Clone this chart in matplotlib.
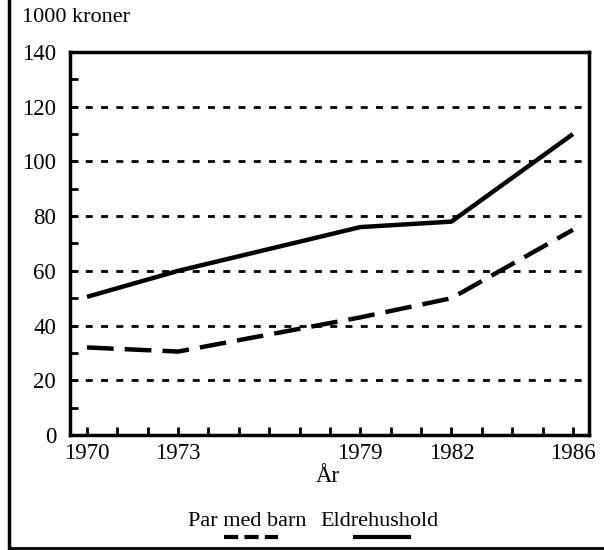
import matplotlib
matplotlib.use("Agg")
import matplotlib.pyplot as plt
from matplotlib.lines import Line2D

years = [1970, 1973, 1979, 1982, 1986]
par_med_barn = [32, 30.5, 43, 50, 75]
eldrehushold = [50.5, 60, 76, 78, 110]
xtick_labels = ["1970", "1973", "1979", "1982", "1986"]
yticks = [0, 20, 40, 60, 80, 100, 120, 140]

plt.rcParams['font.family'] = ['Liberation Serif', 'DejaVu Serif']

fig = plt.figure(figsize=(6.04, 5.5), dpi=100)
W, H = 604, 550
ax = fig.add_axes([70 / W, 1 - 435 / H, (589 - 70) / W, (435 - 52) / H])

ax.set_xlim(1969.44, 1986.53)
ax.set_ylim(0, 140)

for y in [20, 40, 60, 80, 100, 120]:
    ax.axhline(y, color='black', lw=2.0, linestyle=(0, (2.5, 3.0)), zorder=1)

ax.plot(years, eldrehushold, color='black', lw=3.2, solid_capstyle='butt', zorder=3)
ax.plot(years, par_med_barn, color='black', lw=3.2, linestyle=(0, (6, 2.5)), zorder=3)

for s in ax.spines.values():
    s.set_linewidth(2.5)

ax.set_xticks(years)
ax.set_xticklabels(xtick_labels, fontsize=16.5)
ax.set_xticks(list(range(1970, 1987)), minor=True)
ax.set_yticks(yticks)
ax.set_yticklabels([str(v) for v in yticks], fontsize=16.5)
ax.set_yticks(list(range(0, 141, 10)), minor=True)
ax.tick_params(axis='both', which='both', direction='in', width=2, color='black')
ax.tick_params(axis='x', which='both', length=6, pad=6)
ax.tick_params(axis='y', which='both', length=6, pad=10)

fig.text(22 / W, 1 - 18 / H, "1000 kroner", fontsize=16, va='center', ha='left')
fig.text(328 / W, 1 - 477 / H, "År", fontsize=16.5, va='center', ha='center')

fig.text(247 / W, 1 - 521 / H, "Par med barn", fontsize=16, va='center', ha='center')
fig.text(379 / W, 1 - 521 / H, "Eldrehushold", fontsize=16, va='center', ha='center')
fig.add_artist(Line2D([224 / W, 278 / W], [1 - 537 / H, 1 - 537 / H], color='black', lw=3,
                      linestyle=(0, (3.4, 1.5)), transform=fig.transFigure))
fig.add_artist(Line2D([355 / W, 409 / W], [1 - 537 / H, 1 - 537 / H], color='black', lw=3,
                      transform=fig.transFigure))

# figure frame (left and bottom)
fig.add_artist(Line2D([9 / W, 9 / W], [1 - 548 / H, 1.0], color='black', lw=2.5, transform=fig.transFigure))
fig.add_artist(Line2D([9 / W, 1.0], [1 - 548 / H, 1 - 548 / H], color='black', lw=2.0, transform=fig.transFigure))

fig.savefig("out.png", dpi=100)
